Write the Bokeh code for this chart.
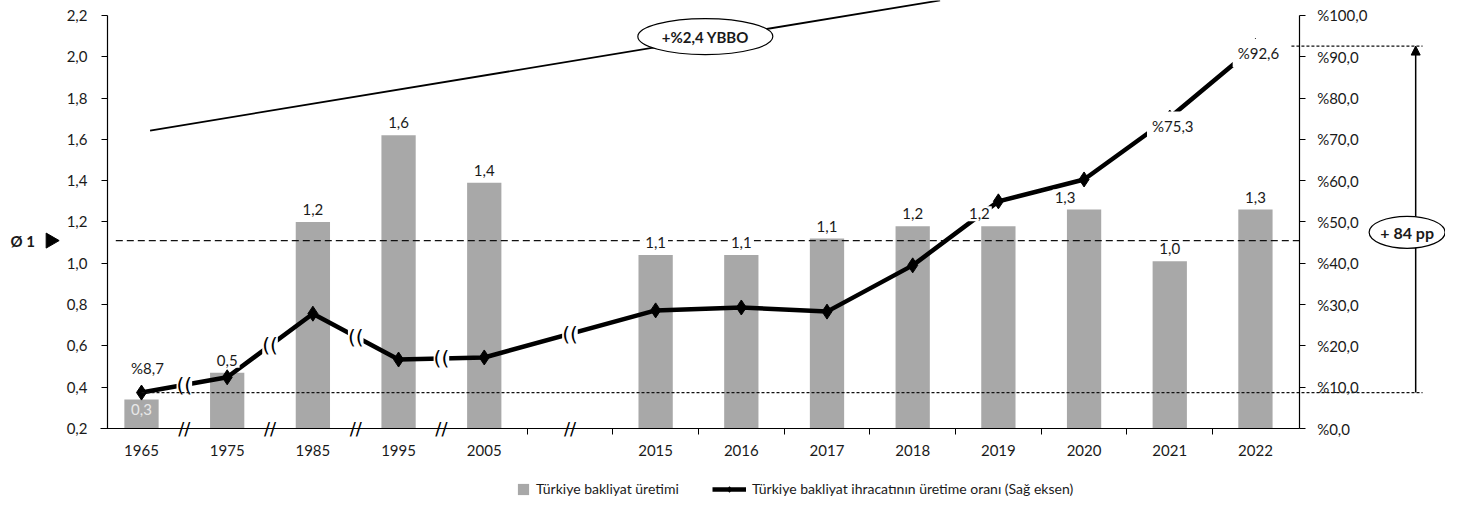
import math
from bokeh.plotting import figure
from bokeh.models import (ColumnDataSource, Range1d, LinearAxis, FixedTicker,
                          CustomJSTickFormatter, Legend, LegendItem, Arrow, NormalHead)
from bokeh.core.properties import value
from bokeh.embed import file_html
from bokeh.resources import INLINE

# ---------------- data ----------------
categories = ["1965", "1975", "1985", "1995", "2005", "", "2015", "2016", "2017",
              "2018", "2019", "2020", "2021", "2022"]
years = ["1965", "1975", "1985", "1995", "2005", "2015", "2016", "2017", "2018",
         "2019", "2020", "2021", "2022"]
production = [0.34, 0.47, 1.20, 1.62, 1.39, 1.04, 1.04, 1.12, 1.18, 1.18, 1.26, 1.01, 1.26]
production_labels = ["0,3", "0,5", "1,2", "1,6", "1,4", "1,1", "1,1", "1,1", "1,2",
                     "1,2", "1,3", "1,0", "1,3"]
export_ratio = [8.7, 12.4, 27.8, 16.7, 17.2, 28.6, 29.3, 28.3, 39.5, 55.0, 60.3, 75.3, 92.6]
ratio_label_years = ["1965", "2021", "2022"]
ratio_labels = ["%8,7", "%75,3", "%92,6"]
left_ticks = [0.2, 0.4, 0.6, 0.8, 1.0, 1.2, 1.4, 1.6, 1.8, 2.0, 2.2]
right_ticks = [0, 10, 20, 30, 40, 50, 60, 70, 80, 90, 100]
avg_production = 1.11
avg_label = "Ø 1"
trend_label = "+%2,4 YBBO"
trend_x = [0.1, 9.32]
trend_y = [1.643, 2.273]
bar_name = "Türkiye bakliyat üretimi"
line_name = "Türkiye bakliyat ihracatının üretime oranı (Sağ eksen)"

# ---------------- layout constants ----------------
FONT = value("Lato")
W, H = 1445, 499
X_START, X_END = -1.6455, 15.218
Y_START, Y_END = -0.1438, 2.2726
BASE = 0.2
PCT_START, PCT_END = (Y_START - BASE) * 50, (Y_END - BASE) * 50
LEFT_AXIS_X = -0.397
RIGHT_AXIS_X = 13.51
ARROW_X = 14.87
PP_X = 14.77
TEXT_COLOR = "#1a1a1a"
bar_label_shift = {"2019": -19, "2020": -19}
ratio_label_offsets = {"1965": (6, -25), "2021": (3, 8), "2022": (3, 7)}

xs = [categories.index(y) for y in years]

p = figure(width=W, height=H, x_range=Range1d(X_START, X_END),
           y_range=Range1d(Y_START, Y_END), x_axis_location=None, y_axis_location=None,
           toolbar_location=None, output_backend="svg", min_border=0)
p.extra_y_ranges = {"pct": Range1d(PCT_START, PCT_END)}
p.outline_line_color = None
p.xgrid.visible = False
p.ygrid.visible = False
p.background_fill_color = "white"
p.border_fill_color = "white"

src = ColumnDataSource(dict(x=xs, top=production, lab=production_labels, ratio=export_ratio))

# bars
bars = p.vbar(x="x", top="top", bottom=BASE, width=0.4, fill_color="#a8a8a8",
              line_color=None, source=src)

# average dashed line
p.segment(x0=-0.3, y0=avg_production, x1=RIGHT_AXIS_X, y1=avg_production,
          line_color="#111111", line_width=1.2, line_dash="7 4")
p.text(x=[-1.53], y=[avg_production], text=[avg_label], text_font=FONT,
       text_font_style="bold", text_font_size="15px", text_baseline="middle",
       text_align="left", text_color=TEXT_COLOR)
p.scatter(x=[-1.062], y=[avg_production], marker="triangle", size=15,
          angle=-math.pi / 2, fill_color="black", line_color="black")

# trend line + ellipse
p.line(trend_x, trend_y, line_color="black", line_width=1.8)
p.ellipse(x=[6.58], y=[2.098], width=[135], height=[36], width_units="screen",
          height_units="screen", fill_color="white", line_color="black", line_width=1.2)
p.text(x=[6.58], y=[2.098], text=[trend_label], text_font=FONT, text_font_style="bold",
       text_font_size="15px", text_align="center", text_baseline="middle",
       text_color=TEXT_COLOR)

# ratio line
line = p.line(x="x", y="ratio", y_range_name="pct", line_color="black", line_width=4.5,
              source=src)
marks = p.scatter(x="x", y="ratio", y_range_name="pct", marker="diamond", size=15,
                  fill_color="black", line_color="black", source=src)

# break marks on line
brk_x, brk_y = [], []
for i in range(len(xs) - 1):
    if xs[i + 1] - xs[i] > 1 or i < 4:
        brk_x.append((xs[i] + xs[i + 1]) / 2)
        brk_y.append((export_ratio[i] + export_ratio[i + 1]) / 2)
p.text(x=brk_x, y=brk_y, y_range_name="pct", text=["(("] * len(brk_x),
       text_font=value("DejaVu Sans"), text_font_size="20px", text_align="center",
       text_baseline="middle", text_color="black", background_fill_color="white")

# x axis break marks
p.text(x=brk_x, y=[BASE] * len(brk_x), text=["//"] * len(brk_x),
       text_font=value("DejaVu Sans"), text_font_size="18px", text_align="center",
       text_baseline="middle", text_color="black", background_fill_color="white")

# dotted reference lines & arrow
p.segment(x0=[0, 13.42], y0=[export_ratio[0], export_ratio[-1]],
          x1=[14.95, 14.95], y1=[export_ratio[0], export_ratio[-1]], y_range_name="pct",
          line_color="#111111", line_width=1.2, line_dash="3 2")
arrow = Arrow(end=NormalHead(size=9, fill_color="black", line_color="black"),
              x_start=ARROW_X, y_start=export_ratio[0], x_end=ARROW_X, y_end=export_ratio[-1],
              y_range_name="pct", line_width=1.5, line_color="black", level="underlay")
p.add_layout(arrow)
p.ellipse(x=[PP_X], y=[47.5], y_range_name="pct", width=[76], height=[32],
          width_units="screen", height_units="screen", fill_color="white",
          line_color="black", line_width=1.2)
p.text(x=[PP_X], y=[47.5], y_range_name="pct",
       text=["+ %d pp" % round(export_ratio[-1] - export_ratio[0])], text_font=FONT,
       text_font_style="bold", text_font_size="16px", text_align="center",
       text_baseline="middle", text_color=TEXT_COLOR)

# ratio labels
rl = ColumnDataSource(dict(
    x=[xs[years.index(y)] for y in ratio_label_years],
    y=[export_ratio[years.index(y)] for y in ratio_label_years],
    t=ratio_labels,
    dx=[ratio_label_offsets[y][0] for y in ratio_label_years],
    dy=[ratio_label_offsets[y][1] for y in ratio_label_years]))
p.text(x="x", y="y", text="t", x_offset="dx", y_offset="dy", source=rl, y_range_name="pct",
       text_font=FONT, text_font_size="15px", text_align="center", text_baseline="middle",
       text_color=TEXT_COLOR, background_fill_color="white", padding=5)

# bar labels
above = ColumnDataSource(dict(x=xs[1:], top=production[1:], lab=production_labels[1:],
                              dx=[bar_label_shift.get(y, 0) for y in years[1:]]))
p.text(x="x", y="top", text="lab", x_offset="dx", y_offset=-5, source=above,
       text_font=FONT, text_font_size="15px", text_align="center", text_baseline="bottom",
       text_color=TEXT_COLOR, background_fill_color="white", padding=2)
p.text(x=[xs[0]], y=[production[0]], text=[production_labels[0]], y_offset=4,
       text_font=FONT, text_font_size="15px", text_align="center", text_baseline="top",
       text_color="#e8e8e8")

# axes
lab_font = dict(major_label_text_font="Lato", major_label_text_font_size="15px",
                major_label_text_color=TEXT_COLOR)
left = LinearAxis(fixed_location=LEFT_AXIS_X, ticker=FixedTicker(ticks=left_ticks),
                  formatter=CustomJSTickFormatter(code="return tick.toFixed(1).replace('.', ',')"),
                  bounds=(left_ticks[0], left_ticks[-1]), major_tick_out=6, major_tick_in=0,
                  minor_tick_line_color=None, axis_line_width=1.2, major_label_standoff=14,
                  **lab_font)
p.add_layout(left, "left")

right = LinearAxis(y_range_name="pct", fixed_location=RIGHT_AXIS_X,
                   ticker=FixedTicker(ticks=right_ticks),
                   formatter=CustomJSTickFormatter(code="return '%' + tick.toFixed(1).replace('.', ',')"),
                   bounds=(right_ticks[0], right_ticks[-1]), major_tick_out=6, major_tick_in=0,
                   minor_tick_line_color=None, axis_line_width=1.2, major_label_standoff=12,
                   **lab_font)
p.add_layout(right, "right")

bottom = LinearAxis(fixed_location=BASE,
                    ticker=FixedTicker(ticks=xs, minor_ticks=[k + 0.5 for k in range(4, len(categories) - 1)]),
                    major_label_overrides={x: y for x, y in zip(xs, years)},
                    bounds=(-0.478, RIGHT_AXIS_X), major_tick_line_color=None,
                    minor_tick_out=6, minor_tick_in=0, axis_line_width=1.2,
                    major_label_standoff=10, **lab_font)
p.add_layout(bottom, "below")

# legends
common = dict(orientation="horizontal", label_text_font="Lato", label_text_font_size="14px",
              label_text_color=TEXT_COLOR, padding=0, margin=0, border_line_color=None,
              background_fill_alpha=0, label_standoff=6, label_height=14, glyph_height=14)
leg1 = Legend(items=[LegendItem(label=bar_name, renderers=[bars])], location=(516, 2),
              glyph_width=14, **common)
leg2 = Legend(items=[LegendItem(label=line_name, renderers=[line, marks])],
              location=(712, 2), glyph_width=34, **common)
p.add_layout(leg1)
p.add_layout(leg2)

open("out.html", "w").write(file_html(p, INLINE))
